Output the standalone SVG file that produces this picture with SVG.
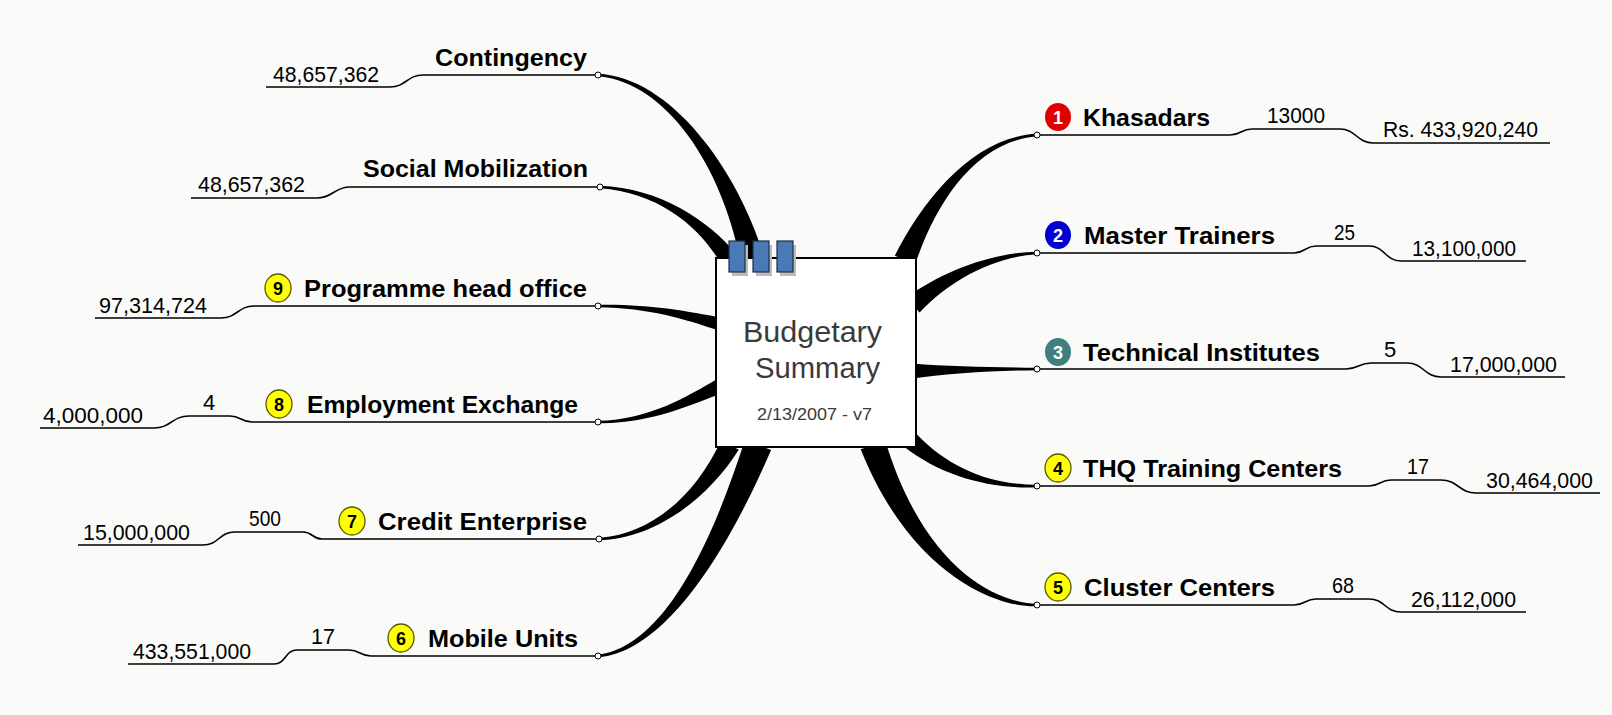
<svg xmlns="http://www.w3.org/2000/svg" width="1612" height="715" viewBox="0 0 1612 715">
<style>
.lbl{font-family:"Liberation Sans",Arial,sans-serif;font-weight:bold;font-size:24px;fill:#000}
.val{font-family:"Liberation Sans",Arial,sans-serif;font-size:22px;fill:#000}
.ln{fill:none;stroke:#000;stroke-width:1.6}
.jn{fill:#fff;stroke:#000;stroke-width:1}
.wedge{fill:#000}
.bn{font-family:"Liberation Sans",Arial,sans-serif;font-weight:bold;font-size:18px;text-anchor:middle}
.by{fill:#ffff00;stroke:#5a5a00;stroke-width:1.3}
.ctr{font-family:"Liberation Sans",Arial,sans-serif;fill:#3a3a3a}
.tab{fill:#4a7ab5;stroke:#1c2f4a;stroke-width:1.2}
.tabsh{fill:#bdbdbd}
</style>
<rect x="0" y="0" width="1612" height="715" fill="#fafaf8"/>
<g id="connectors">
<path class="wedge" d="M597.9,76.2 C669.8,82.8 723.1,171.7 740.4,260.9 L763.6,255.1 C736.9,168.3 670.2,77.2 598.1,73.8 Z"/>
<path class="wedge" d="M599.9,188.2 C659.9,192.4 700.5,228.1 720.6,263.2 L735.4,252.9 C709.5,221.9 660.1,187.6 600.1,185.8 Z"/>
<path class="wedge" d="M598,307.2 C650,308 684,319 718.4,330.3 L721.6,317.7 C686,311 650,304 598,304.8 Z"/>
<path class="wedge" d="M598,423.2 C650,424.2 692,404.2 723.2,392.8 L716.8,379.2 C688,395.8 650,419.8 598,420.8 Z"/>
<path class="wedge" d="M599,540.2 C650.1,539.5 705.3,502.9 738.8,449.8 L721.2,440.2 C694.7,497.1 649.9,534.5 599,537.8 Z"/>
<path class="wedge" d="M598.1,657.2 C660.3,653.1 722.7,562.9 771.1,449.9 L744.9,440.1 C707.3,557.1 659.7,646.9 597.9,654.8 Z"/>
<path class="wedge" d="M1036.9,133.8 C974.8,136.3 923.9,197.5 894.8,255.8 L915.2,264.2 C936.1,202.5 975.2,141.7 1037.1,136.2 Z"/>
<path class="wedge" d="M1037,251.8 C989.9,252.5 941,272.5 906.4,297.5 L919.6,312.5 C949,281.5 990.1,257.5 1037,254.2 Z"/>
<path class="wedge" d="M1037,367.8 C990,367.2 950,366.6 912,363.5 L912,378.5 C950,373.4 990,370.8 1037,370.2 Z"/>
<path class="wedge" d="M1037,484.8 C990,484.6 948.7,468 916.1,433.4 L903.9,446.6 C941.3,476.1 990,489.4 1037,487.2 Z"/>
<path class="wedge" d="M1037,603.8 C990,602 922.3,562.5 885.3,440.7 L860.7,449.3 C907.7,567.5 990,608 1037,606.2 Z"/>
</g>
<g id="center">
<rect x="716" y="258" width="200" height="189" fill="#fff" stroke="#000" stroke-width="2"/>
<rect class="tabsh" x="732" y="245" width="16" height="31"/>
<rect class="tabsh" x="756" y="245" width="16" height="31"/>
<rect class="tabsh" x="780" y="245" width="16" height="31"/>
<rect class="tab" x="729" y="241" width="16" height="31"/>
<rect class="tab" x="753" y="241" width="16" height="31"/>
<rect class="tab" x="777" y="241" width="16" height="31"/>
<text class="ctr" x="743" y="342" font-size="29" textLength="139" lengthAdjust="spacingAndGlyphs">Budgetary</text>
<text class="ctr" x="755" y="378" font-size="29" textLength="125" lengthAdjust="spacingAndGlyphs">Summary</text>
<text class="ctr" x="757" y="420" font-size="17" textLength="115" lengthAdjust="spacingAndGlyphs">2/13/2007 - v7</text>
</g>
<g id="n-contingency">
<path class="ln" d="M266,87 L390,87 C406,87 407,75 423,75 L595,75"/>
<circle class="jn" cx="598" cy="75" r="3"/>
<text class="lbl" x="435" y="66" textLength="152" lengthAdjust="spacingAndGlyphs">Contingency</text>
<text class="val" x="273" y="82" textLength="106" lengthAdjust="spacingAndGlyphs">48,657,362</text>
</g>
<g id="n-social">
<path class="ln" d="M191,198 L317,198 C333,198 334,187 350,187 L597,187"/>
<circle class="jn" cx="600" cy="187" r="3"/>
<text class="lbl" x="363" y="177" textLength="225" lengthAdjust="spacingAndGlyphs">Social Mobilization</text>
<text class="val" x="198" y="192" textLength="107" lengthAdjust="spacingAndGlyphs">48,657,362</text>
</g>
<g id="n-programme">
<path class="ln" d="M95,318 L221,318 C237,318 238,306 254,306 L595,306"/>
<circle class="jn" cx="598" cy="306" r="3"/>
<ellipse class="by" cx="278" cy="288" rx="13" ry="14"/>
<text class="bn" x="278" y="294.5" fill="#000">9</text>
<text class="lbl" x="304" y="297" textLength="283" lengthAdjust="spacingAndGlyphs">Programme head office</text>
<text class="val" x="99" y="313" textLength="108" lengthAdjust="spacingAndGlyphs">97,314,724</text>
</g>
<g id="n-employment">
<path class="ln" d="M40,428 L154,428 C171,428 172,416 189,416 L230,416 C241,416 241,422 252,422 L595,422"/>
<circle class="jn" cx="598" cy="422" r="3"/>
<ellipse class="by" cx="279" cy="404" rx="13" ry="14"/>
<text class="bn" x="279" y="410.5" fill="#000">8</text>
<text class="lbl" x="307" y="413" textLength="271" lengthAdjust="spacingAndGlyphs">Employment Exchange</text>
<text class="val" x="203" y="410">4</text>
<text class="val" x="43" y="423" textLength="100" lengthAdjust="spacingAndGlyphs">4,000,000</text>
</g>
<g id="n-credit">
<path class="ln" d="M78,545 L203,545 C219,545 219,532 235,532 L303,532 C313,532 312,539 322,539 L596,539"/>
<circle class="jn" cx="599" cy="539" r="3"/>
<ellipse class="by" cx="352" cy="521" rx="13" ry="14"/>
<text class="bn" x="352" y="527.5" fill="#000">7</text>
<text class="lbl" x="378" y="530" textLength="209" lengthAdjust="spacingAndGlyphs">Credit Enterprise</text>
<text class="val" x="249" y="526" textLength="32" lengthAdjust="spacingAndGlyphs">500</text>
<text class="val" x="83" y="540" textLength="107" lengthAdjust="spacingAndGlyphs">15,000,000</text>
</g>
<g id="n-mobile">
<path class="ln" d="M128,664 L274,664 C286,664 285,650 297,650 L349,650 C360,650 360,656 371,656 L595,656"/>
<circle class="jn" cx="598" cy="656" r="3"/>
<ellipse class="by" cx="401" cy="638" rx="13" ry="14"/>
<text class="bn" x="401" y="644.5" fill="#000">6</text>
<text class="lbl" x="428" y="647" textLength="150" lengthAdjust="spacingAndGlyphs">Mobile Units</text>
<text class="val" x="311" y="644" textLength="24" lengthAdjust="spacingAndGlyphs">17</text>
<text class="val" x="133" y="659" textLength="118" lengthAdjust="spacingAndGlyphs">433,551,000</text>
</g>
<g id="n-khasadars">
<path class="ln" d="M1040,135 L1230,135 C1241,135 1241,129 1252,129 L1340,129 C1356,129 1357,143 1373,143 L1550,143"/>
<circle class="jn" cx="1037" cy="135" r="3"/>
<ellipse cx="1058" cy="117" rx="13" ry="14" fill="#e00000"/>
<text class="bn" x="1058" y="123.5" fill="#fff">1</text>
<text class="lbl" x="1083" y="126" textLength="127" lengthAdjust="spacingAndGlyphs">Khasadars</text>
<text class="val" x="1267" y="123" textLength="58" lengthAdjust="spacingAndGlyphs">13000</text>
<text class="val" x="1383" y="137" textLength="155" lengthAdjust="spacingAndGlyphs">Rs. 433,920,240</text>
</g>
<g id="n-master">
<path class="ln" d="M1040,253 L1294,253 C1305,253 1305,246 1316,246 L1369,246 C1385,246 1385,261 1401,261 L1526,261"/>
<circle class="jn" cx="1037" cy="253" r="3"/>
<ellipse cx="1058" cy="235" rx="13" ry="14" fill="#0000d0"/>
<text class="bn" x="1058" y="241.5" fill="#fff">2</text>
<text class="lbl" x="1084" y="244" textLength="191" lengthAdjust="spacingAndGlyphs">Master Trainers</text>
<text class="val" x="1334" y="240" textLength="21" lengthAdjust="spacingAndGlyphs">25</text>
<text class="val" x="1412" y="256" textLength="104" lengthAdjust="spacingAndGlyphs">13,100,000</text>
</g>
<g id="n-technical">
<path class="ln" d="M1040,369 L1346,369 C1358,369 1359,363 1371,363 L1407,363 C1424,363 1424,377 1441,377 L1565,377"/>
<circle class="jn" cx="1037" cy="369" r="3"/>
<ellipse cx="1058" cy="352" rx="13" ry="14" fill="#3f7f80"/>
<text class="bn" x="1058" y="358.5" fill="#fff">3</text>
<text class="lbl" x="1083" y="361" textLength="237" lengthAdjust="spacingAndGlyphs">Technical Institutes</text>
<text class="val" x="1384" y="357">5</text>
<text class="val" x="1450" y="372" textLength="107" lengthAdjust="spacingAndGlyphs">17,000,000</text>
</g>
<g id="n-thq">
<path class="ln" d="M1040,486 L1369,486 C1380,486 1380,480 1391,480 L1441,480 C1458,480 1459,493 1476,493 L1600,493"/>
<circle class="jn" cx="1037" cy="486" r="3"/>
<ellipse class="by" cx="1058" cy="468" rx="13" ry="14"/>
<text class="bn" x="1058" y="474.5" fill="#000">4</text>
<text class="lbl" x="1083" y="477" textLength="259" lengthAdjust="spacingAndGlyphs">THQ Training Centers</text>
<text class="val" x="1407" y="474" textLength="22" lengthAdjust="spacingAndGlyphs">17</text>
<text class="val" x="1486" y="488" textLength="107" lengthAdjust="spacingAndGlyphs">30,464,000</text>
</g>
<g id="n-cluster">
<path class="ln" d="M1040,605 L1294,605 C1305,605 1305,599 1316,599 L1369,599 C1385,599 1385,612 1401,612 L1526,612"/>
<circle class="jn" cx="1037" cy="605" r="3"/>
<ellipse class="by" cx="1058" cy="587" rx="13" ry="14"/>
<text class="bn" x="1058" y="593.5" fill="#000">5</text>
<text class="lbl" x="1084" y="596" textLength="191" lengthAdjust="spacingAndGlyphs">Cluster Centers</text>
<text class="val" x="1332" y="593" textLength="22" lengthAdjust="spacingAndGlyphs">68</text>
<text class="val" x="1411" y="607" textLength="105" lengthAdjust="spacingAndGlyphs">26,112,000</text>
</g>
</svg>
